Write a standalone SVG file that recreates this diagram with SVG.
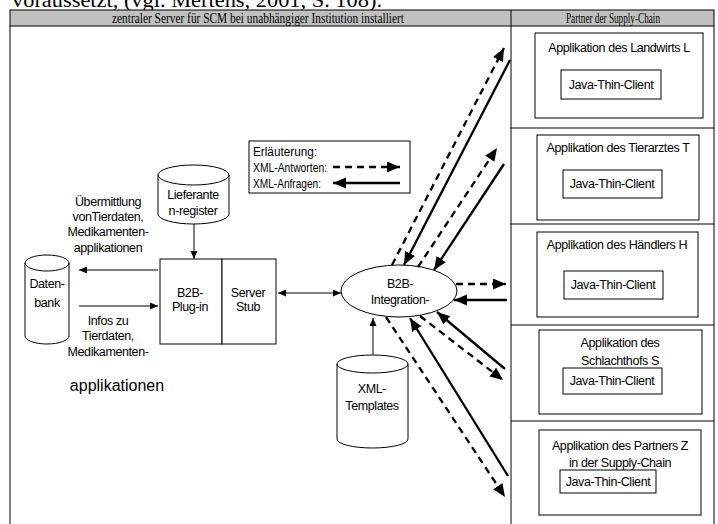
<svg xmlns="http://www.w3.org/2000/svg" width="718" height="524" viewBox="0 0 718 524">
  <style>
    .t { font-family: "Liberation Sans", Arial, sans-serif; font-size: 12.5px; letter-spacing: -0.4px; fill: #000; text-anchor: middle; }
    .tl { font-family: "Liberation Sans", Arial, sans-serif; font-size: 12.5px; fill: #000; }
    .big { font-family: "Liberation Sans", Arial, sans-serif; font-size: 16px; fill: #000; text-anchor: middle; }
    .hd { font-family: "Liberation Serif", "Times New Roman", serif; font-size: 14px; fill: #000; text-anchor: middle; }
    .shape { fill: #fff; stroke: #000; stroke-width: 1; }
    .grid { fill: none; stroke: #000; stroke-width: 1; }
    .thin { fill: none; stroke: #000; stroke-width: 1; }
    .resp { fill: none; stroke: #000; stroke-width: 2.3; stroke-dasharray: 7 5; }
    .req { fill: none; stroke: #000; stroke-width: 2.3; }
  </style>
  <defs>
    <marker id="tip" markerWidth="9" markerHeight="8" refX="8" refY="3.5" orient="auto-start-reverse" markerUnits="userSpaceOnUse">
      <path d="M0,0 L8,3.5 L0,7 z" fill="#000"/>
    </marker>
    <marker id="bigtip" markerWidth="14" markerHeight="12" refX="13" refY="5.5" orient="auto-start-reverse" markerUnits="userSpaceOnUse">
      <path d="M0,0 L13,5.5 L0,11 z" fill="#000"/>
    </marker>
  </defs>

  <!-- running text above the figure -->
  <text x="12" y="7" font-family="Liberation Serif, Times New Roman, serif" font-size="22" textLength="370" lengthAdjust="spacingAndGlyphs">voraussetzt, (vgl. Mertens, 2001, S. 108).</text>

  <!-- table frame -->
  <g id="table">
    <rect x="10" y="10" width="704" height="16" fill="#c0c0c0" stroke="#000" stroke-width="1"/>
    <path class="grid" d="M10,26 V524 M511,10 V524 M714,26 V524 M511,128 H714 M511,224 H714 M511,325 H714 M511,421 H714"/>
    <text class="hd" x="258" y="22.5" textLength="292" lengthAdjust="spacingAndGlyphs">zentraler Server für SCM bei unabhängiger Institution installiert</text>
    <text class="hd" x="613" y="22.5" textLength="94" lengthAdjust="spacingAndGlyphs">Partner der Supply-Chain</text>
  </g>

  <!-- server side -->
  <g id="datenbank">
    <path class="shape" d="M25,263 A22,8 0 0 1 69,263 V336 A22,8 0 0 1 25,336 Z"/>
    <path class="thin" d="M25,263 A22,8 0 0 0 69,263"/>
    <text class="t" x="47" y="288">Daten-</text>
    <text class="t" x="47" y="307">bank</text>
  </g>

  <g id="lieferantenregister">
    <path class="shape" d="M158,175 A35.5,10 0 0 1 229,175 V214 A35.5,10 0 0 1 158,214 Z"/>
    <path class="thin" d="M158,175 A35.5,10 0 0 0 229,175"/>
    <text class="t" x="193" y="199">Lieferante</text>
    <text class="t" x="193" y="215">n-register</text>
  </g>

  <g id="plugin">
    <rect class="shape" x="160" y="259" width="62" height="85"/>
    <text class="t" x="190" y="297">B2B-</text>
    <text class="t" x="190" y="311">Plug-in</text>
  </g>

  <g id="serverstub">
    <rect class="shape" x="222" y="259" width="54" height="85"/>
    <text class="t" x="248" y="297">Server</text>
    <text class="t" x="248" y="311">Stub</text>
  </g>

  <g id="integration">
    <ellipse class="shape" cx="399" cy="291" rx="58" ry="26"/>
    <text class="t" x="400" y="288">B2B-</text>
    <text class="t" x="400" y="304">Integration-</text>
  </g>

  <g id="xmltemplates">
    <path class="shape" d="M337,364 A35.5,9 0 0 1 408,364 V439 A35.5,9 0 0 1 337,439 Z"/>
    <path class="thin" d="M337,364 A35.5,9 0 0 0 408,364"/>
    <text class="t" x="372" y="393">XML-</text>
    <text class="t" x="372" y="410">Templates</text>
  </g>

  <g id="labels">
    <text class="t" x="108" y="206">Übermittlung</text>
    <text class="t" x="108" y="221">vonTierdaten,</text>
    <text class="t" x="108" y="236">Medikamenten-</text>
    <text class="t" x="108" y="252">applikationen</text>
    <text class="t" x="108" y="325">Infos zu</text>
    <text class="t" x="108" y="340">Tierdaten,</text>
    <text class="t" x="108" y="356">Medikamenten-</text>
    <text class="big" x="117" y="391">applikationen</text>
  </g>

  <g id="legend">
    <rect class="shape" x="249" y="141" width="161" height="52"/>
    <text class="tl" x="253" y="156" textLength="64" lengthAdjust="spacingAndGlyphs">Erläuterung:</text>
    <text class="tl" x="253" y="172" textLength="74" lengthAdjust="spacingAndGlyphs">XML-Antworten:</text>
    <text class="tl" x="253" y="188" textLength="68" lengthAdjust="spacingAndGlyphs">XML-Anfragen:</text>
    <path class="resp" d="M333,167 H400" marker-end="url(#bigtip)"/>
    <path class="req" d="M400,183 H333" marker-end="url(#bigtip)"/>
  </g>

  <!-- partner applications -->
  <g id="landwirt">
    <rect class="shape" x="535" y="33" width="168" height="85"/>
    <text class="t" x="619" y="52">Applikation des Landwirts L</text>
    <rect class="shape" x="561" y="70" width="100" height="29"/>
    <text class="t" x="611" y="89" font-size="12">Java-Thin-Client</text>
  </g>

  <g id="tierarzt">
    <rect class="shape" x="537" y="135" width="162" height="85"/>
    <text class="t" x="618" y="152">Applikation des Tierarztes T</text>
    <rect class="shape" x="563" y="170" width="99" height="28"/>
    <text class="t" x="612" y="188" font-size="12">Java-Thin-Client</text>
  </g>

  <g id="haendler">
    <rect class="shape" x="537" y="232" width="161" height="85"/>
    <text class="t" x="617" y="249">Applikation des Händlers H</text>
    <rect class="shape" x="564" y="271" width="99" height="28"/>
    <text class="t" x="613" y="289" font-size="12">Java-Thin-Client</text>
  </g>

  <g id="schlachthof">
    <rect class="shape" x="539" y="330" width="163" height="84"/>
    <text class="t" x="620" y="347">Applikation des</text>
    <text class="t" x="620" y="365">Schlachthofs S</text>
    <rect class="shape" x="563" y="368" width="99" height="26"/>
    <text class="t" x="612" y="385" font-size="12">Java-Thin-Client</text>
  </g>

  <g id="partnerz">
    <rect class="shape" x="539" y="430" width="162" height="85"/>
    <text class="t" x="620" y="450">Applikation des Partners Z</text>
    <text class="t" x="620" y="467">in der Supply-Chain</text>
    <rect class="shape" x="560" y="470" width="96" height="23"/>
    <text class="t" x="608" y="486" font-size="12">Java-Thin-Client</text>
  </g>

  <!-- connectors -->
  <g id="connectors">
    <path class="thin" d="M158,270 H79" marker-end="url(#tip)"/>
    <path class="thin" d="M79,306 H158" marker-end="url(#tip)"/>
    <path class="thin" d="M194,224 V259" marker-end="url(#tip)"/>
    <path class="thin" d="M278,293 H341" marker-start="url(#tip)" marker-end="url(#tip)"/>
    <path class="thin" d="M373,355 V318" marker-end="url(#tip)"/>

    <path class="resp" d="M392,265 L504,48" marker-end="url(#bigtip)"/>
    <path class="req" d="M510,60 L404,265" marker-end="url(#bigtip)"/>
    <path class="resp" d="M418,267 L497,148" marker-end="url(#bigtip)"/>
    <path class="req" d="M504,164 L434,270" marker-end="url(#bigtip)"/>
    <path class="resp" d="M456,284 H506" marker-end="url(#bigtip)"/>
    <path class="req" d="M507,300 H454" marker-end="url(#bigtip)"/>
    <path class="req" d="M505,369 L437,312" marker-end="url(#bigtip)"/>
    <path class="resp" d="M420,316 L503,380" marker-end="url(#bigtip)"/>
    <path class="req" d="M508,476 L410,318" marker-end="url(#bigtip)"/>
    <path class="resp" d="M386,317 L505,497" marker-end="url(#bigtip)"/>
  </g>
</svg>
